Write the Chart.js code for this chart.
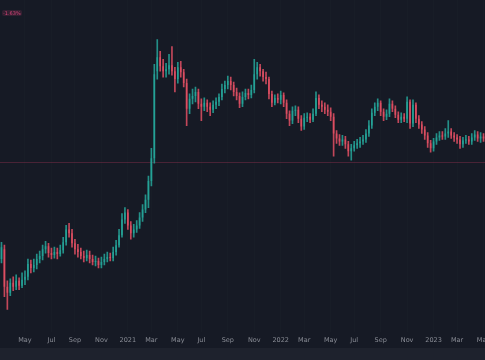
<!DOCTYPE html>
<html>
<head>
<meta charset="utf-8">
<script src="https://cdn.jsdelivr.net/npm/chart.js@4.4.0/dist/chart.umd.min.js"></script>
<style>
  html, body { margin: 0; padding: 0; background: #161a25; overflow: hidden; }
  #wrap { position: relative; width: 485px; height: 348px; }
  #strip { width: 485px; height: 12px; background: #1e222d; }
  #badge {
    position: absolute; left: 2px; top: 10px;
    font: 5px "DejaVu Sans", sans-serif; color: #d9457a;
    background: rgba(224, 69, 123, 0.15); border-radius: 2px; padding: 0 1px;
  }
</style>
</head>
<body>
<div id="wrap">
  <canvas id="chart"></canvas>
  <span id="badge">-1.63%</span>
</div>
<div id="strip"></div>
<script>
// --- Weekly candles (arbitrary price units) ---
const opens = [78,88,50,44,54,50,56,51,57,60,73,69,72,78,81,88,91,84,82,85,83,87,95,108,104,94,88,85,81,79,
  82,78,75,76,72,75,78,80,79,85,92,102,118,125,112,104,108,112,120,128,138,157,180,268,282,273,268,270,274,268,
  260,272,267,256,230,240,243,247,235,232,236,232,229,234,237,242,250,254,258,254,247,243,235,242,246,244,249,265,272,268,
  262,260,245,236,241,239,244,236,225,218,228,229,220,212,221,222,219,225,241,234,232,229,227,222,205,200,197,199,194,187,
  190,193,195,197,199,205,213,226,232,236,227,222,225,235,230,224,219,222,220,237,215,234,220,214,209,203,195,190,197,201,
  203,202,205,207,203,201,199,194,198,199,197,201,204,200,202];
const highs = [95,92,56,58,60,62,59,64,66,78,77,78,83,86,92,96,94,89,90,89,92,100,112,114,108,98,93,89,86,87,
  86,82,81,79,80,83,85,84,90,97,108,124,130,128,116,113,117,125,133,143,162,190,275,300,288,280,276,285,293,272,
  277,278,270,260,245,250,252,250,240,241,239,236,238,241,245,255,258,263,262,257,251,246,247,250,250,254,280,277,275,270,
  267,262,248,244,245,248,246,239,228,232,233,232,223,225,226,225,230,247,244,238,236,234,231,225,208,204,203,202,197,194,
  197,199,201,203,209,218,230,236,240,238,230,229,240,238,233,227,226,225,242,239,239,236,223,217,212,206,198,200,205,207,
  207,210,218,210,206,204,202,201,203,202,205,208,207,206,205];
const lows = [74,40,27,41,46,47,47,49,52,57,64,65,68,74,77,84,80,78,79,78,81,84,92,100,90,83,80,78,75,76,
  74,72,71,69,69,72,75,76,76,82,90,100,114,108,98,100,105,109,116,125,130,152,175,260,268,262,262,265,264,247,
  256,262,252,213,225,235,237,230,218,228,227,223,226,230,233,239,246,250,249,243,239,231,232,239,240,241,246,260,263,258,
  255,240,232,234,236,235,232,220,213,215,223,216,208,209,217,216,217,223,230,227,225,223,218,182,195,193,193,190,182,178,
  187,190,191,194,196,202,210,223,228,223,218,219,222,227,221,216,216,217,216,210,212,216,210,205,199,191,186,187,194,198,
  199,199,201,200,197,195,190,191,195,194,194,198,197,196,197];
const closes = [90,50,44,54,50,56,51,57,60,73,69,72,78,81,88,91,84,82,85,83,87,95,108,104,94,88,85,81,79,82,
  78,75,76,72,75,78,80,79,85,92,102,118,125,112,104,108,112,120,128,138,157,180,265,282,273,268,270,274,268,260,
  272,267,256,230,240,243,247,235,232,236,232,229,234,237,242,250,254,258,254,247,243,235,242,246,244,249,265,272,268,262,
  260,245,236,241,239,244,236,225,218,228,229,220,212,221,222,219,225,241,234,232,229,227,222,205,200,197,199,194,187,190,
  193,195,197,199,205,213,226,232,236,227,222,225,235,230,224,219,222,220,237,215,234,220,214,209,203,195,190,197,201,203,
  202,205,207,203,201,199,194,198,199,197,201,204,200,202,200];
const priceLine = 176;

// time axis: candle index -> label
const tickIndex  = [8, 17, 25, 34, 43, 51, 60, 68, 77, 86, 95, 103, 112, 120, 129, 138, 147, 155, 164];
const tickLabels = ['May','Jul','Sep','Nov','2021','Mar','May','Jul','Sep','Nov','2022','Mar','May','Jul','Sep','Nov','2023','Mar','May'];

const UP = 'rgba(38, 166, 154, 0.85)';
const DOWN = 'rgba(226, 80, 100, 0.85)';

const categories = closes.map((_, i) => String(i));
const candleColors = closes.map((c, i) => c >= opens[i] ? UP : DOWN);

const priceLinePlugin = {
  id: 'priceLine',
  beforeDatasetsDraw(chart) {
    const { ctx, chartArea, scales } = chart;
    const y = Math.round(scales.y.getPixelForValue(priceLine)) + 0.5;
    ctx.save();
    ctx.strokeStyle = 'rgba(170, 55, 85, 0.35)';
    ctx.lineWidth = 1;
    ctx.beginPath();
    ctx.moveTo(chartArea.left, y);
    ctx.lineTo(chartArea.right, y);
    ctx.stroke();
    ctx.restore();
  }
};

new Chart(document.getElementById('chart'), {
  type: 'bar',
  data: {
    labels: categories,
    datasets: [
      {
        label: 'body',
        data: opens.map((o, i) => [o, closes[i]]),
        backgroundColor: candleColors,
        barPercentage: 0.55,
        categoryPercentage: 1,
        grouped: false,
        minBarLength: 1,
        order: 0
      },
      {
        label: 'wick',
        data: lows.map((l, i) => [l, highs[i]]),
        backgroundColor: candleColors,
        barThickness: 1,
        grouped: false,
        order: 1
      }
    ]
  },
  options: {
    responsive: true,
    maintainAspectRatio: false,
    animation: false,
    layout: { padding: 0 },
    plugins: { legend: { display: false }, tooltip: { enabled: false } },
    scales: {
      x: {
        border: { display: false },
        grid: {
          offset: false,
          drawTicks: false,
          color: 'rgba(42, 46, 57, 0.15)'
        },
        afterBuildTicks: axis => { axis.ticks = tickIndex.map(v => ({ value: v })); },
        afterFit: axis => { axis.paddingLeft = 0; axis.paddingRight = 0; },
        ticks: {
          autoSkip: false,
          maxRotation: 0,
          padding: 4,
          color: '#8a8d96',
          font: { family: 'DejaVu Sans', size: 6.5 },
          callback: value => tickLabels[tickIndex.indexOf(value)]
        }
      },
      y: {
        display: false,
        min: 4,
        max: 340
      }
    }
  },
  plugins: [priceLinePlugin]
});
</script>
</body>
</html>
